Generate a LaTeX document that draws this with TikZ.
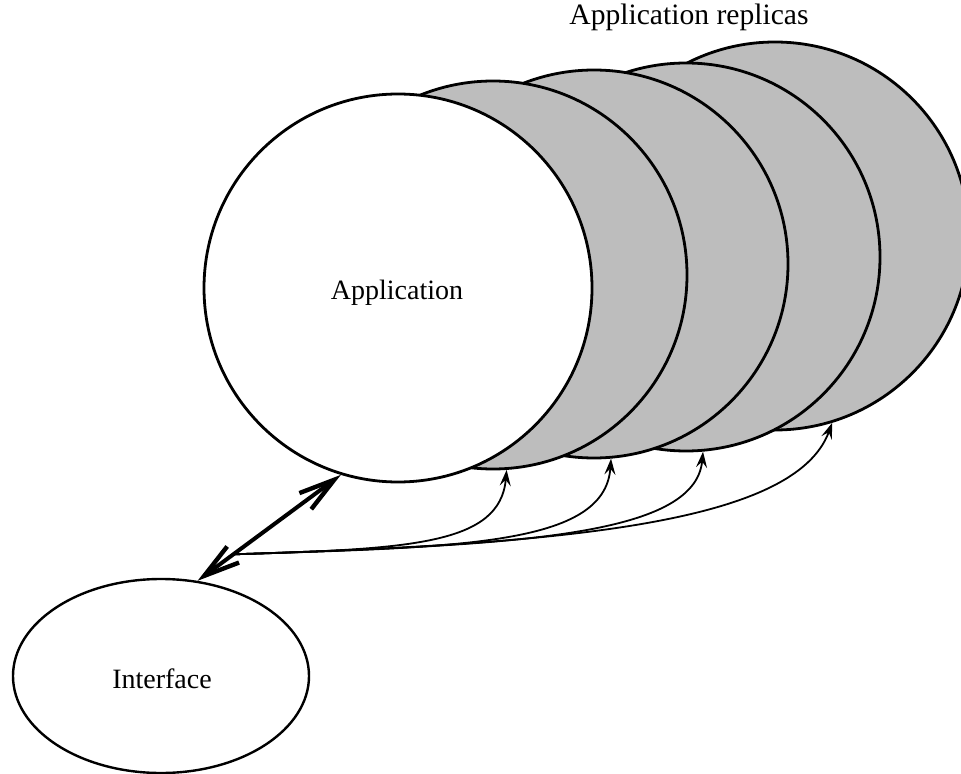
\documentclass[tikz,border=0pt]{standalone}
\usepackage{fontspec}
\setmainfont{Liberation Serif}
\usetikzlibrary{arrows.meta,shapes.geometric}
\begin{document}
\begin{tikzpicture}[x=0.5pt,y=-0.5pt,
  disc/.style={circle,draw=black,line width=1.4pt,minimum size=194pt,inner sep=0pt},
  replica/.style={disc,fill=black!26},
  primary/.style={disc,fill=white},
  client/.style={ellipse,draw=black,line width=1.2pt,fill=white,
    minimum width=148pt,minimum height=97pt,inner sep=0pt},
  caption/.style={font=\fontsize{14}{16}\selectfont,inner sep=0pt},
  barb/.tip={Straight Barb[length=18pt,width=10pt,line width=2.2pt]},
  link/.style={line width=2pt,line cap=round,barb-barb},
  feed/.style={line width=0.9pt,-{Stealth[length=8pt,width=5.5pt,inset=3pt]}}]
\useasboundingbox (0,0) rectangle (961,774);

% stacked replicas, back to front
\node[replica] (r4) at (775,236) {};
\node[replica] (r3) at (686,257) {};
\node[replica] (r2) at (594,264) {};
\node[replica] (r1) at (493,275) {};
\node[primary] (app) at (398,288) {};
\node[caption] (applbl) at (397,293) {Application};

\node[client] (ui) at (161,676) {};
\node[caption] (uilbl) at (162,679) {Interface};

\node[caption,font=\fontsize{14.8}{17}\selectfont] (title) at (689,17) {Application replicas};

% interface <-> application
\draw[link] (ui.69) -- node[pos=0.25,coordinate] (split) {} (app.-107);

% fan-out to the replicas
\draw[feed] (split) .. controls (410,549) and (500,545) .. (r1.-86);
\draw[feed] (split) .. controls (460,547) and (605,546) .. (r2.-85);
\draw[feed] (split) .. controls (510,545) and (695,538) .. (r3.-85);
\draw[feed] (split) .. controls (560,544) and (795,525) .. (r4.-73);
\end{tikzpicture}
\end{document}
